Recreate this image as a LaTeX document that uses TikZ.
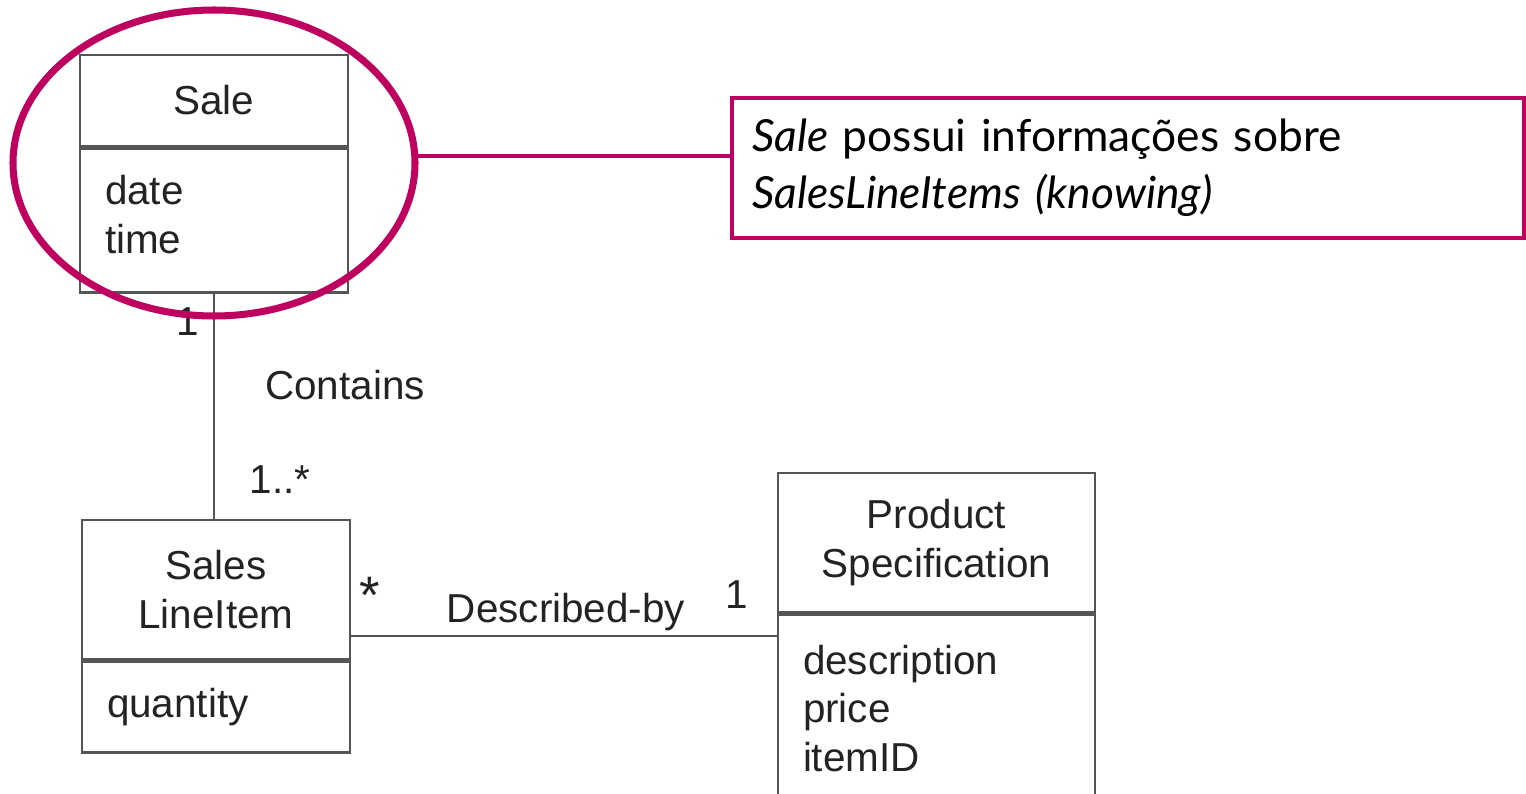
\documentclass[tikz,border=0pt]{standalone}
\usepackage{fontspec}
\setmainfont{Liberation Sans}
\newfontfamily\notefont{Lato}
\usepackage{xcolor}
\usepackage{tikz}
\usetikzlibrary{positioning,shapes.geometric,calc}

\definecolor{umlgray}{RGB}{85,85,85}
\definecolor{umltext}{RGB}{35,35,35}
\definecolor{hilite}{RGB}{190,0,95}

\begin{document}
\begin{tikzpicture}[
  font=\fontsize{11.5}{13.8}\selectfont,
  text=umltext,
  classtitle/.style={
    draw=umlgray,
    line width=0.7pt,
    inner sep=0pt,
    align=center
  },
  classattr/.style={
    draw=umlgray,
    line width=0.7pt,
    inner sep=0pt,
    align=left
  },
  assoc/.style={
    draw=umlgray,
    line width=0.6pt
  },
  mult/.style={
    inner sep=1pt
  },
  callout/.style={
    draw=hilite,
    line width=1.2pt
  }
]
\useasboundingbox (0,0) rectangle (15.26,-7.94);

%---------------------------------
% Sale
%---------------------------------
\node[classtitle, minimum width=2.68cm, minimum height=0.91cm] (saletitle) at (2.14,-1.005)
{Sale};
\node[classattr, minimum width=2.68cm, minimum height=1.44cm, text width=2.18cm,
      below=0pt of saletitle] (saleattr)
{date\\time\par\vspace{1.2mm}};

%---------------------------------
% SalesLineItem
%---------------------------------
\node[classtitle, minimum width=2.68cm, minimum height=1.39cm] (slititle) at (2.16,-5.895)
{Sales\\LineItem};
\node[classattr, minimum width=2.68cm, minimum height=0.91cm, text width=2.18cm,
      below=0pt of slititle] (sliattr)
{quantity};

%---------------------------------
% ProductSpecification
%---------------------------------
\node[classtitle, minimum width=3.17cm, minimum height=1.39cm] (prodtitle) at (9.365,-5.425)
{Product\\Specification};
\node[classattr, minimum width=3.17cm, minimum height=1.88cm, text width=2.67cm,
      below=0pt of prodtitle] (prodattr)
{description\\price\\itemID};

%---------------------------------
% Associations
%---------------------------------
\draw[assoc] (saleattr.south) -- (saleattr.south |- slititle.north);
\draw[assoc] ([yshift=-4.65mm]slititle.east) -- ([yshift=-4.65mm]slititle.east -| prodtitle.west);

\node[mult] (onesale)  at (1.88,-3.22) {1};
\node[mult] (contains) at (3.45,-3.85) {Contains};
\node[mult] (manyitem) at (2.80,-4.80) {1..*};
\node[mult, font=\fontsize{15}{15}\selectfont] (manyspec) at (3.70,-5.95) {*};
\node[mult] (descr)    at (5.66,-6.12) {Described-by};
\node[mult] (onespec)  at (7.37,-5.95) {1};

%---------------------------------
% Highlight and note
%---------------------------------
\node[ellipse, draw=hilite, line width=2pt, minimum width=4.02cm, minimum height=3.06cm]
  (focus) at (2.14,-1.63) {};

\node[callout, minimum width=7.92cm, minimum height=1.40cm, text width=7.52cm,
      align=left, inner sep=0pt, text=black,
      font=\notefont\fontsize{12.6}{16.2}\selectfont] (note) at (11.28,-1.68)
{\textit{Sale} possui informações sobre\\\textit{SalesLineItems (knowing)}};

\draw[callout] (focus.2) -- (focus.2 -| note.west);

\end{tikzpicture}
\end{document}
